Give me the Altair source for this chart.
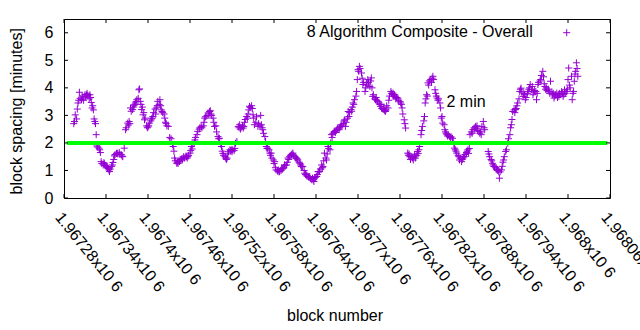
import altair as alt
import pandas as pd

BASE_BLOCK = 1967280

block_offsets = [
    14, 15, 16, 18, 19, 20, 21, 22, 23, 25,
    26, 27, 28, 30, 31, 32, 33, 34, 36, 37,
    38, 39, 40, 41, 42, 43, 44, 45, 46, 47,
    48, 50, 51, 52, 53, 54, 56, 57, 58, 59,
    61, 62, 63, 64, 65, 66, 68, 69, 70, 71,
    72, 73, 75, 76, 77, 79, 80, 82, 83, 84,
    86, 88, 89, 91, 92, 93, 94, 95, 96, 98,
    99, 100, 101, 102, 103, 104, 106, 107, 108, 109,
    110, 111, 112, 113, 114, 115, 116, 118, 119, 120,
    121, 122, 124, 125, 126, 127, 128, 130, 131, 132,
    133, 134, 136, 137, 138, 139, 140, 141, 143, 144,
    145, 146, 147, 149, 151, 153, 155, 156, 157, 158,
    159, 161, 162, 163, 164, 165, 166, 168, 169, 170,
    171, 172, 174, 175, 176, 177, 178, 180, 181, 182,
    183, 184, 186, 187, 188, 190, 191, 193, 194, 196,
    197, 199, 200, 201, 202, 204, 206, 207, 208, 209,
    210, 211, 213, 214, 215, 217, 218, 220, 221, 222,
    224, 225, 226, 227, 228, 230, 231, 232, 233, 234,
    235, 237, 238, 239, 240, 241, 243, 244, 245, 247,
    249, 250, 251, 252, 253, 255, 256, 257, 258, 259,
    261, 262, 263, 264, 265, 266, 268, 269, 270, 271,
    272, 274, 275, 277, 278, 280, 281, 282, 283, 284,
    285, 287, 288, 289, 290, 291, 293, 294, 295, 296,
    297, 299, 300, 301, 302, 303, 305, 306, 307, 308,
    310, 311, 312, 313, 314, 315, 316, 318, 319, 320,
    321, 322, 324, 325, 326, 327, 328, 330, 331, 332,
    333, 334, 336, 337, 338, 339, 340, 341, 343, 344,
    345, 346, 347, 349, 350, 351, 352, 354, 355, 356,
    357, 358, 359, 361, 362, 363, 364, 365, 367, 368,
    369, 370, 371, 372, 374, 375, 376, 377, 378, 380,
    381, 382, 383, 384, 386, 387, 388, 389, 390, 391,
    393, 394, 395, 396, 397, 399, 400, 401, 402, 403,
    405, 406, 407, 408, 410, 411, 412, 413, 414, 415,
    417, 418, 419, 420, 421, 422, 423, 425, 426, 427,
    428, 430, 431, 432, 433, 434, 435, 437, 438, 439,
    440, 441, 442, 444, 445, 446, 447, 448, 450, 451,
    452, 453, 454, 456, 457, 458, 459, 460, 461, 463,
    464, 465, 467, 468, 469, 470, 471, 472, 473, 474,
    475, 477, 478, 480, 481, 482, 483, 484, 486, 487,
    488, 491, 492, 493, 494, 495, 496, 498, 499, 500,
    501, 502, 504, 505, 506, 507, 508, 510, 511, 512,
    514, 515, 516, 517, 518, 519, 520, 521, 522, 524,
    525, 526, 527, 528, 530, 531, 532, 533, 534, 535,
    537, 538, 539, 540, 541, 543, 544, 545, 546, 547,
    548, 549, 551, 552, 553, 555, 556, 557, 558, 559,
    560, 561, 563, 564, 565, 566, 568, 569, 570, 571,
    572, 573, 575, 576, 577, 578, 579, 580, 582, 583,
    584, 586, 587, 588, 589, 590, 591, 593, 594, 595,
    596, 597, 599, 600, 601, 606, 607, 608, 610, 611,
    612, 613, 614, 615, 617, 618, 619, 620, 621, 622,
    623, 625, 626, 627, 628, 629, 631, 632, 634, 635,
    637, 638, 639, 640, 641, 643, 644, 645, 646, 647,
    648, 650, 651, 652, 653, 654, 656, 657, 658, 659,
    660, 662, 663, 664, 665, 666, 668, 669, 670, 671,
    672, 674, 675, 676, 677, 678, 680, 681, 682, 684,
    685, 686, 687, 688, 689, 690, 692, 693, 694, 695,
    697, 698, 699, 700, 701, 702, 704, 705, 706, 707,
    708, 710, 711, 712, 713, 714, 715, 716, 718, 719,
    720, 721, 722, 723, 725, 726, 727, 728, 729, 730,
    731, 732, 733, 734,
]

spacing_minutes = [
    2.70, 2.78, 3.02, 2.87, 3.23, 3.45, 3.55, 3.84, 3.62, 3.57,
    3.70, 3.63, 3.55, 3.75, 3.68, 3.75, 3.80, 3.72, 3.60, 3.75,
    3.65, 3.47, 3.27, 3.35, 3.20, 2.87, 2.78, 2.70, 2.30, 1.89,
    1.85, 1.81, 1.75, 1.65, 1.32, 1.25, 1.20, 1.28, 1.24, 1.18,
    1.14, 1.10, 1.08, 1.02, 0.96, 1.05, 1.14, 1.20, 1.29, 1.40,
    1.53, 1.58, 1.62, 1.63, 1.60, 1.65, 1.58, 1.57, 1.52, 1.50,
    1.81, 2.48, 2.55, 2.72, 2.65, 2.78, 2.70, 3.27, 3.15, 3.21,
    3.30, 3.35, 3.40, 3.45, 3.50, 3.57, 3.62, 3.93, 3.96, 3.51,
    3.40, 3.21, 3.30, 3.02, 3.10, 2.84, 2.90, 2.62, 2.55, 2.58,
    2.62, 2.72, 2.80, 2.87, 2.90, 2.96, 3.10, 3.23, 3.05, 3.27,
    3.35, 3.51, 3.40, 3.57, 3.35, 3.20, 3.14, 3.10, 3.05, 2.90,
    2.75, 2.70, 2.62, 2.60, 2.20, 2.15, 1.95, 1.87, 1.70, 1.45,
    1.35, 1.26, 1.30, 1.25, 1.35, 1.32, 1.40, 1.42, 1.38, 1.45,
    1.50, 1.45, 1.52, 1.50, 1.45, 1.50, 1.55, 1.63, 1.72, 1.87,
    1.78, 1.95, 2.00, 2.11, 2.20, 2.30, 2.42, 2.50, 2.55, 2.60,
    2.55, 2.62, 2.75, 2.90, 2.95, 2.98, 3.09, 3.00, 3.14, 3.17,
    3.05, 3.00, 2.90, 2.75, 2.60, 2.62, 2.40, 2.23, 2.15, 2.17,
    1.95, 1.87, 1.70, 1.62, 1.55, 1.50, 1.45, 1.40, 1.45, 1.60,
    1.68, 1.75, 1.72, 1.75, 1.68, 1.75, 1.72, 1.80, 1.99, 2.05,
    2.60, 2.55, 2.66, 2.50, 2.55, 2.62, 2.54, 2.60, 2.75, 2.85,
    2.96, 2.90, 3.05, 3.20, 3.33, 3.28, 3.35, 3.25, 3.02, 2.90,
    2.66, 2.75, 2.95, 2.60, 2.70, 2.62, 3.00, 2.66, 2.55, 2.48,
    2.35, 2.23, 2.05, 1.87, 1.80, 1.81, 1.75, 1.63, 1.55, 1.63,
    1.45, 1.38, 1.25, 1.32, 1.10, 1.02, 0.98, 1.02, 0.95, 0.96,
    1.00, 1.08, 1.05, 1.08, 1.12, 1.20, 1.18, 1.20, 1.30, 1.45,
    1.40, 1.50, 1.55, 1.57, 1.60, 1.63, 1.55, 1.50, 1.45, 1.45,
    1.42, 1.38, 1.30, 1.26, 1.20, 1.14, 1.15, 1.14, 1.00, 0.90,
    0.85, 0.84, 0.80, 0.78, 0.75, 0.78, 0.70, 0.66, 0.72, 0.66,
    0.60, 0.72, 0.75, 0.78, 0.85, 0.96, 0.95, 0.96, 1.05, 1.20,
    1.10, 1.14, 1.35, 1.63, 1.45, 1.38, 1.60, 1.87, 1.80, 1.75,
    2.00, 2.30, 2.20, 2.35, 2.40, 2.42, 2.38, 2.45, 2.50, 2.54,
    2.48, 2.55, 2.60, 2.66, 2.62, 2.70, 2.80, 2.84, 2.60, 2.75,
    2.90, 3.14, 2.96, 3.10, 3.21, 3.15, 3.30, 3.45, 3.40, 3.57,
    3.70, 3.87, 4.30, 4.66, 4.60, 4.78, 4.70, 4.54, 4.35, 4.12,
    4.20, 3.87, 4.00, 4.18, 4.10, 4.30, 4.20, 4.05, 4.25, 4.36,
    4.00, 3.69, 3.75, 3.60, 3.57, 3.65, 3.55, 3.51, 3.45, 3.40,
    3.33, 3.40, 3.25, 3.21, 3.30, 3.18, 3.14, 3.20, 3.35, 3.27,
    3.55, 3.70, 3.87, 3.80, 3.75, 3.81, 3.70, 3.75, 3.69, 3.60,
    3.65, 3.63, 3.55, 3.50, 3.45, 3.40, 3.27, 3.05, 2.84, 2.70,
    2.54, 1.63, 1.55, 1.60, 1.50, 1.40, 1.50, 1.45, 1.38, 1.50,
    1.57, 1.45, 1.55, 1.69, 1.62, 1.75, 1.87, 2.30, 2.45, 2.60,
    2.80, 2.96, 3.45, 3.60, 3.75, 3.70, 4.18, 4.10, 4.25, 4.30,
    4.20, 4.35, 4.42, 4.30, 3.93, 3.80, 3.70, 3.63, 3.55, 3.60,
    3.45, 3.27, 2.90, 2.96, 2.72, 2.66, 2.48, 2.40, 2.35, 2.30,
    2.25, 2.28, 2.23, 2.20, 2.22, 2.17, 2.05, 1.95, 1.81, 1.75,
    1.70, 1.63, 1.55, 1.50, 1.38, 1.45, 1.32, 1.40, 1.45, 1.50,
    1.50, 1.58, 1.65, 1.70, 1.75, 1.62, 1.80, 2.30, 2.40, 2.35,
    2.48, 2.55, 2.50, 2.60, 2.54, 2.62, 2.45, 2.42, 2.35, 2.40,
    2.30, 2.60, 2.78, 2.55, 2.48, 1.69, 1.60, 1.50, 1.40, 1.35,
    1.26, 1.20, 1.15, 1.14, 1.10, 1.05, 1.00, 1.02, 0.95, 0.72,
    0.95, 1.02, 1.15, 1.30, 1.38, 1.50, 1.69, 1.75, 1.99, 2.15,
    2.30, 2.55, 2.66, 2.85, 3.14, 3.20, 3.10, 3.21, 3.25, 3.35,
    3.45, 3.60, 3.87, 3.95, 3.99, 3.85, 3.69, 3.80, 3.75, 3.57,
    3.65, 3.80, 3.87, 3.95, 4.00, 4.12, 3.93, 4.05, 3.75, 3.85,
    3.90, 3.87, 3.57, 3.80, 4.12, 4.20, 4.25, 4.30, 4.45, 4.60,
    4.40, 4.15, 4.05, 3.95, 4.00, 3.90, 3.95, 3.87, 3.80, 4.24,
    3.85, 3.75, 3.80, 3.63, 3.70, 3.75, 3.81, 3.65, 3.75, 3.69,
    3.80, 3.75, 3.87, 3.80, 3.69, 3.75, 3.93, 3.80, 3.87, 3.95,
    4.30, 4.72, 4.10, 4.00, 4.42, 3.57, 3.80, 3.87, 4.24, 4.50,
    4.60, 4.91, 4.70, 4.42,
]

assert len(block_offsets) == len(spacing_minutes)

x_ticks = [1967280, 1967340, 1967400, 1967460, 1967520, 1967580, 1967640,
           1967700, 1967760, 1967820, 1967880, 1967940, 1968000, 1968060]
y_ticks = [0, 1, 2, 3, 4, 5, 6]

target_minutes = [2]
target_start = [1967284]
target_end = [1968056]

series_name = "8 Algorithm Composite - Overall"
target_label = "2 min"

FONT = "Liberation Sans"
FS = 16
PURPLE = "#9400D3"
PLUS = "M-1,0H1M0,-1V1"
W, H = 546, 179

df = pd.DataFrame({
    "block": [BASE_BLOCK + o for o in block_offsets],
    "spacing": spacing_minutes,
})
df_target = pd.DataFrame({"block": target_start, "block2": target_end, "spacing": target_minutes})
df_xt = pd.DataFrame({"block": x_ticks})
df_yt = pd.DataFrame({"spacing": y_ticks})

x_scale = alt.Scale(domain=[x_ticks[0], x_ticks[-1]], nice=False, zero=False)
y_scale = alt.Scale(domain=[0, 6.5], nice=False, zero=False)

x_axis = alt.Axis(
    values=x_ticks,
    labelExpr="format(datum.value / 1000000, '.6~g') + 'x10 6'",
    labelAngle=51, labelAlign="left", labelBaseline="top", labelPadding=11,
    labelOverlap=False, labelFlush=False,
    ticks=False, domain=False, grid=False,
    title="block number", titleX=270.5, titleY=117,
    titleAlign="center", titleBaseline="middle",
)
y_axis = alt.Axis(
    values=y_ticks, format="d",
    ticks=False, domain=False, grid=False, labelPadding=11,
    title="block spacing [minutes]", titleX=-47.5, titleY=91.8,
    titleAngle=270, titleAlign="center", titleBaseline="middle",
)

X = alt.X("block:Q", scale=x_scale, axis=x_axis, title="block number")
Y = alt.Y("spacing:Q", scale=y_scale, axis=y_axis, title="block spacing [minutes]")

points = alt.Chart(df).mark_point(
    shape=PLUS, filled=False, color=PURPLE, size=49, strokeWidth=1, opacity=1
).encode(x=X, y=Y)

target = alt.Chart(df_target).mark_rule(color="#00FF00", strokeWidth=4).encode(
    x=X, x2="block2:Q", y=Y,
)

tick_style = dict(color="black", strokeWidth=1)
xt_bottom = alt.Chart(df_xt).mark_rule(**tick_style).encode(
    x=X, y=alt.value(H), y2=alt.value(H - 4))
xt_top = alt.Chart(df_xt).mark_rule(**tick_style).encode(
    x=X, y=alt.value(0), y2=alt.value(4))
yt_left = alt.Chart(df_yt).mark_rule(**tick_style).encode(
    y=Y, x=alt.value(0), x2=alt.value(4))
yt_right = alt.Chart(df_yt).mark_rule(**tick_style).encode(
    y=Y, x=alt.value(W), x2=alt.value(W - 4))

label_df = pd.DataFrame({"label": [target_label]})
target_text = alt.Chart(label_df).mark_text(
    font=FONT, fontSize=FS, color="black", align="left", baseline="alphabetic"
).encode(text="label:N", x=alt.value(382.5), y=alt.value(88.3))

legend_df = pd.DataFrame({"label": [series_name]})
legend_text = alt.Chart(legend_df).mark_text(
    font=FONT, fontSize=FS, color="black", align="right", baseline="alphabetic"
).encode(text="label:N", x=alt.value(468.7), y=alt.value(18.3))
legend_sym = alt.Chart(legend_df).mark_point(
    shape=PLUS, filled=False, color=PURPLE, size=49, strokeWidth=1, opacity=1
).encode(x=alt.value(502.7), y=alt.value(13.7))

chart = alt.layer(
    points, target, xt_bottom, xt_top, yt_left, yt_right,
    target_text, legend_text, legend_sym,
).properties(
    width=W, height=H,
    autosize=alt.AutoSizeParams(type="none"),
    padding={"left": 64, "top": 19, "right": 30, "bottom": 132},
    background="white",
).configure_view(
    stroke="black", strokeWidth=1
).configure_axis(
    labelFont=FONT, labelFontSize=FS, labelColor="black",
    titleFont=FONT, titleFontSize=FS, titleColor="black", titleFontWeight="normal",
)

chart.save("out.html", embed_options={"renderer": "svg", "actions": False})
